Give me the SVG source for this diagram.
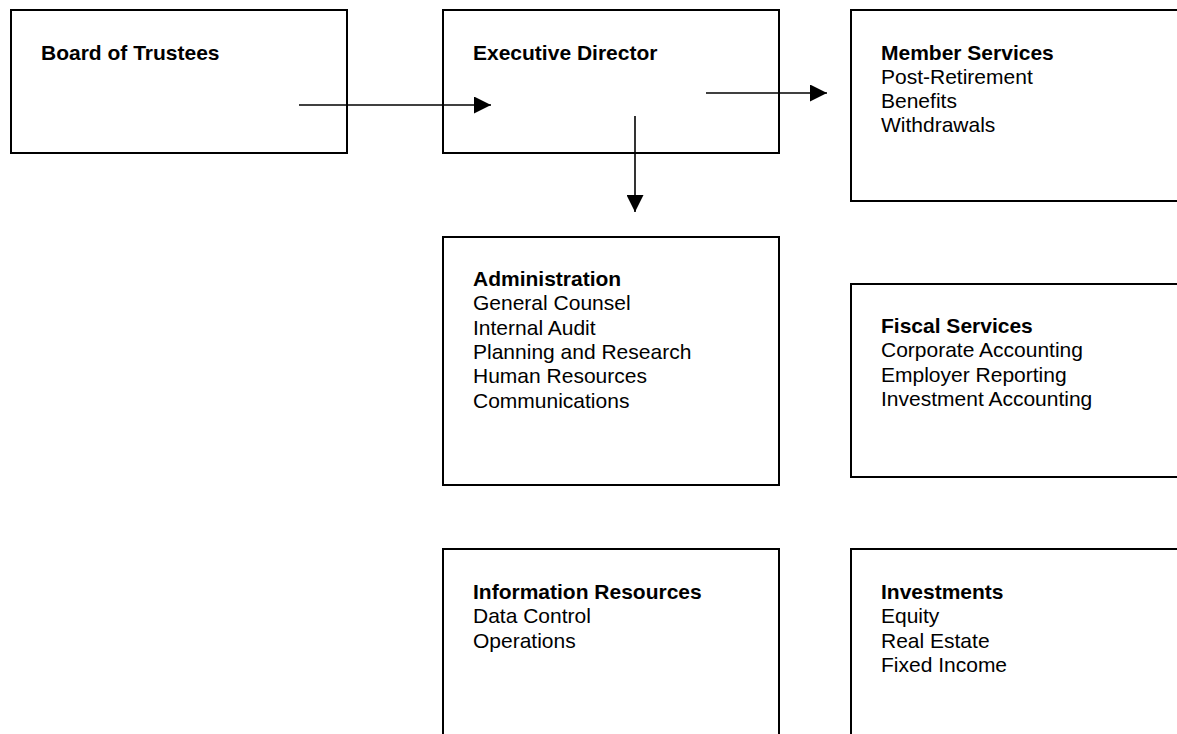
<svg xmlns="http://www.w3.org/2000/svg" width="1177" height="734" viewBox="0 0 1177 734">
<style>
.box{fill:#fff;stroke:#000;stroke-width:2}
.t{font-family:"Liberation Sans",Arial,sans-serif;font-size:21px;fill:#000}
.b{font-weight:bold}
.c{stroke:#000;stroke-width:1.6;fill:none}
</style>
<defs>
<marker id="ah" markerUnits="userSpaceOnUse" markerWidth="17" markerHeight="17" refX="16" refY="8" orient="auto" viewBox="0 0 16 16">
<path d="M0,0 L16,8 L0,16 z" fill="#000"/>
</marker>
</defs>
<rect width="1177" height="734" fill="#fff"/>
<g id="board">
<rect class="box" x="11" y="10" width="336" height="143"/>
<text class="t b" x="41" y="60">Board of Trustees</text>
</g>
<g id="executive">
<rect class="box" x="443" y="10" width="336" height="143"/>
<text class="t b" x="473" y="60">Executive Director</text>
</g>
<g id="member">
<rect class="box" x="851" y="10" width="340" height="191"/>
<text class="t" x="881" y="60"><tspan class="b">Member Services</tspan><tspan x="881" dy="24">Post-Retirement</tspan><tspan x="881" dy="24">Benefits</tspan><tspan x="881" dy="24">Withdrawals</tspan></text>
</g>
<g id="admin">
<rect class="box" x="443" y="237" width="336" height="248"/>
<text class="t" x="473" y="286"><tspan class="b">Administration</tspan><tspan x="473" dy="24.3">General Counsel</tspan><tspan x="473" dy="24.3">Internal Audit</tspan><tspan x="473" dy="24.3">Planning and Research</tspan><tspan x="473" dy="24.3">Human Resources</tspan><tspan x="473" dy="24.3">Communications</tspan></text>
</g>
<g id="fiscal">
<rect class="box" x="851" y="284" width="340" height="193"/>
<text class="t" x="881" y="333"><tspan class="b">Fiscal Services</tspan><tspan x="881" dy="24.3">Corporate Accounting</tspan><tspan x="881" dy="24.3">Employer Reporting</tspan><tspan x="881" dy="24.3">Investment Accounting</tspan></text>
</g>
<g id="info">
<rect class="box" x="443" y="549" width="336" height="200"/>
<text class="t" x="473" y="599"><tspan class="b">Information Resources</tspan><tspan x="473" dy="24.3">Data Control</tspan><tspan x="473" dy="24.3">Operations</tspan></text>
</g>
<g id="investments">
<rect class="box" x="851" y="549" width="340" height="200"/>
<text class="t" x="881" y="599"><tspan class="b">Investments</tspan><tspan x="881" dy="24.3">Equity</tspan><tspan x="881" dy="24.3">Real Estate</tspan><tspan x="881" dy="24.3">Fixed Income</tspan></text>
</g>
<g id="connectors">
<line class="c" x1="299" y1="105" x2="491" y2="105" marker-end="url(#ah)"/>
<line class="c" x1="706" y1="93" x2="827" y2="93" marker-end="url(#ah)"/>
<line class="c" x1="635" y1="116" x2="635" y2="212" marker-end="url(#ah)"/>
</g>
</svg>
